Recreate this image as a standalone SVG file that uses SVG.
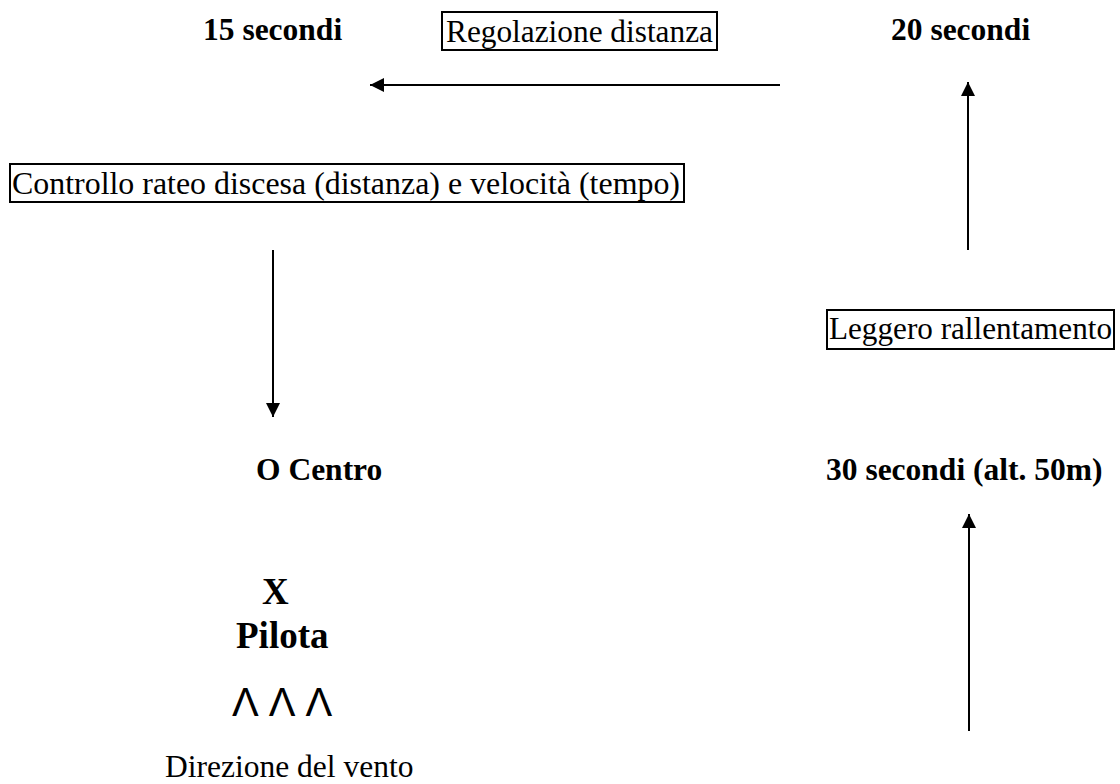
<svg xmlns="http://www.w3.org/2000/svg" width="1120" height="784" viewBox="0 0 1120 784">
<style>
text{font-family:"Liberation Serif","Times New Roman",serif;fill:#000;font-size:31.5px}
.b{font-weight:bold}
.big{font-weight:bold;font-size:37px}
.box{fill:none;stroke:#000;stroke-width:2}
.ln{stroke:#000;stroke-width:2;fill:none}
</style>
<defs>
<marker id="ah" viewBox="0 0 14 14" refX="14" refY="7" markerWidth="14" markerHeight="14" markerUnits="userSpaceOnUse" orient="auto"><path d="M0,0 L14,7 L0,14 z" fill="#000"/></marker>
</defs>
<rect width="1120" height="784" fill="#fff"/>
<g id="n15"><text class="b" x="203" y="40">15 secondi</text></g>
<g id="regolazione"><rect class="box" x="442" y="12" width="275" height="38"/><text x="446" y="42" textLength="267" lengthAdjust="spacingAndGlyphs">Regolazione distanza</text></g>
<g id="n20"><text class="b" x="891" y="40">20 secondi</text></g>
<g id="controllo"><rect class="box" x="10" y="164" width="674" height="38"/><text x="12" y="194" textLength="668" lengthAdjust="spacingAndGlyphs">Controllo rateo discesa (distanza) e velocità (tempo)</text></g>
<g id="leggero"><rect class="box" x="827" y="310" width="287" height="39"/><text x="829" y="339" textLength="283" lengthAdjust="spacingAndGlyphs">Leggero rallentamento</text></g>
<g id="centro"><text class="b" x="256" y="480">O Centro</text></g>
<g id="n30"><text class="b" x="826" y="480">30 secondi (alt. 50m)</text></g>
<g id="pilota"><text class="big" x="262" y="604">X</text><text class="big" x="236" y="648">Pilota</text></g>
<g id="vento"><text x="232" y="716" style="font-family:'Liberation Sans',Arial,sans-serif;font-size:40px;letter-spacing:10px">ΛΛΛ</text><text x="165" y="777">Direzione del vento</text></g>
<g id="connectors">
<line class="ln" x1="780" y1="85" x2="370" y2="85" marker-end="url(#ah)"/>
<line class="ln" x1="968" y1="250" x2="968" y2="82" marker-end="url(#ah)"/>
<line class="ln" x1="273" y1="250" x2="273" y2="417" marker-end="url(#ah)"/>
<line class="ln" x1="969" y1="731" x2="969" y2="514" marker-end="url(#ah)"/>
</g>
</svg>
